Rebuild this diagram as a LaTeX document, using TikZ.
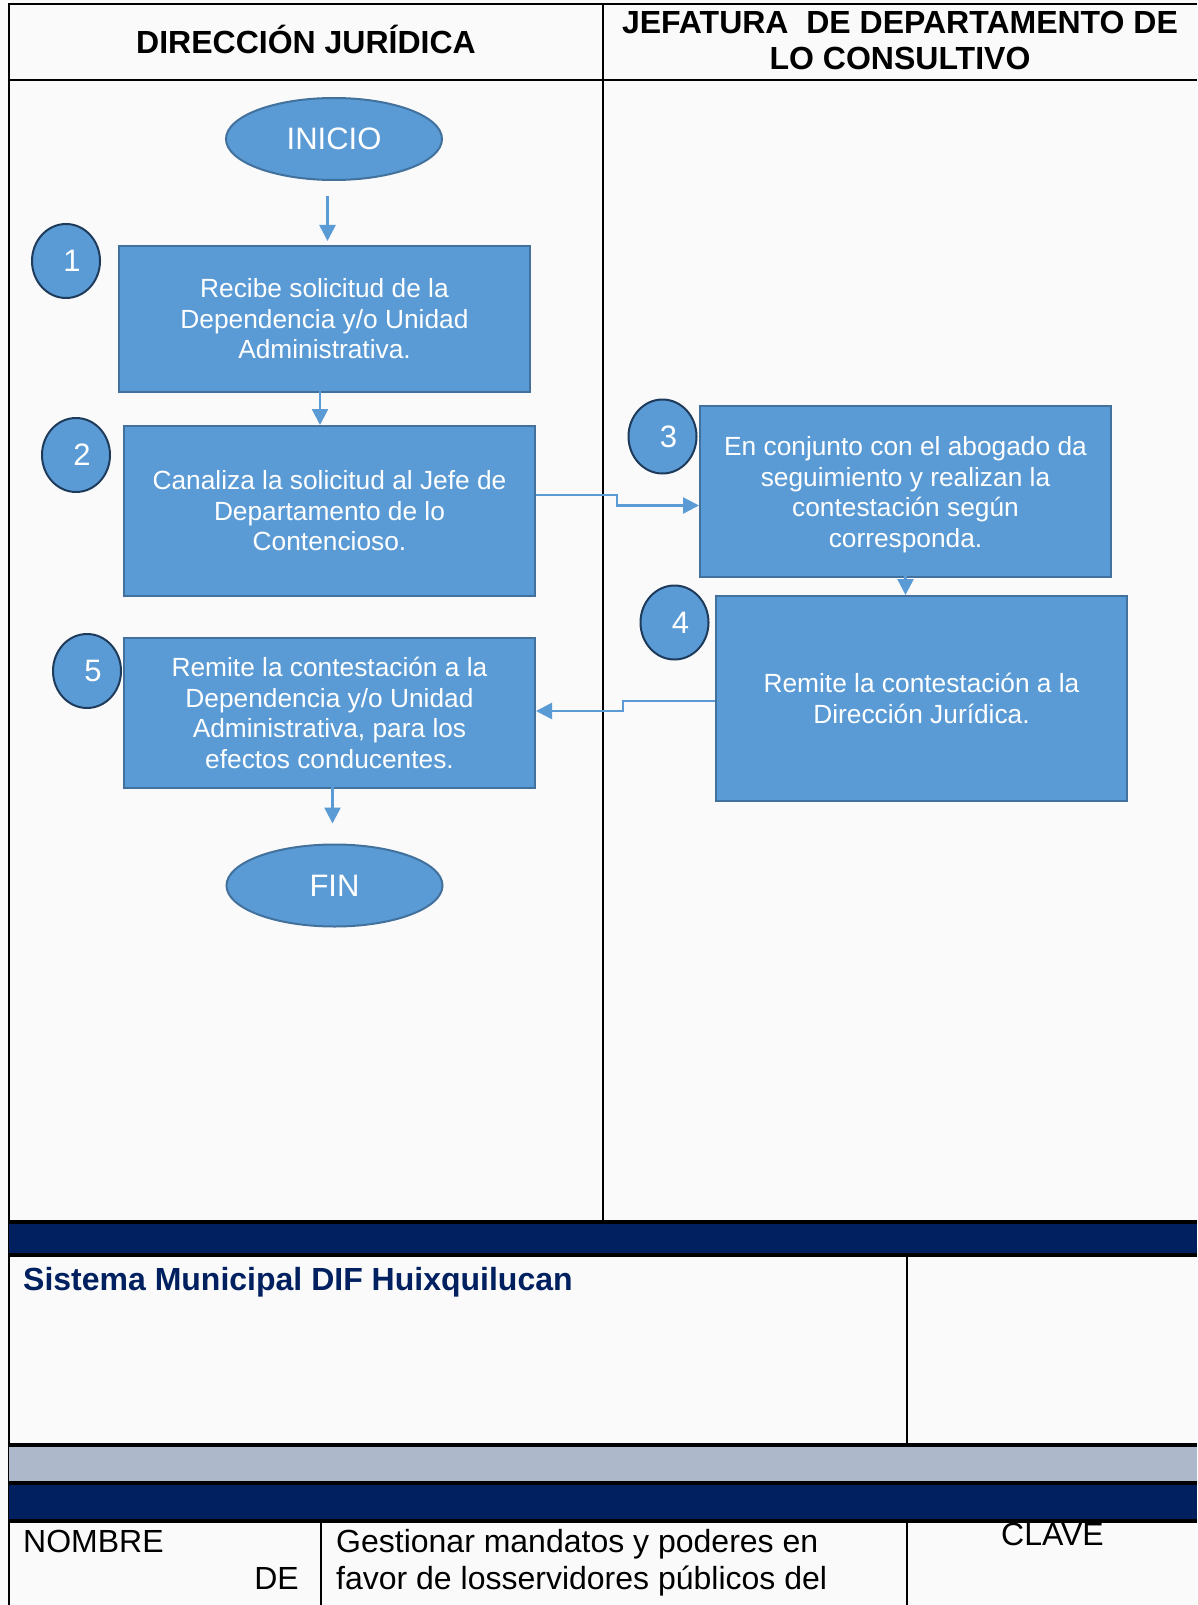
\documentclass[tikz,border=0pt]{standalone}
\usepackage{fontspec}
\setmainfont{Liberation Sans}
\usetikzlibrary{arrows.meta,shapes.geometric}
\definecolor{boxblue}{HTML}{5B9BD5}
\definecolor{boxedge}{HTML}{41719C}
\definecolor{ringedge}{HTML}{1F3B5C}
\definecolor{navyband}{HTML}{002060}
\definecolor{grayband}{HTML}{ADB9CA}
\definecolor{pagebg}{HTML}{FAFAFA}
\newcommand*\boxfont{\fontsize{26.3}{30.5}\selectfont}
\newcommand*\headfont{\fontsize{32}{36}\selectfont\bfseries}
\newcommand*\rowfont{\fontsize{32}{37}\selectfont}
\tikzset{
    stepbox/.style  = {draw=boxedge, line width=2pt, fill=boxblue,
                      text=white, align=center, font=\boxfont,
                      minimum width=411pt, inner sep=0pt},
    stepnum/.style  = {ellipse, draw=ringedge, line width=2pt, fill=boxblue,
                      text=white, font=\fontsize{31}{31}\selectfont,
                      minimum width=68pt, minimum height=74pt, inner sep=0pt,
                      execute at begin node={\hspace*{12pt}}},
    terminal/.style = {ellipse, draw=boxedge, line width=2pt, fill=boxblue,
                      text=white, font=\fontsize{31}{31}\selectfont,
                      minimum width=216pt, minimum height=82pt, inner sep=0pt},
    flow/.style     = {draw=boxblue, line width=2.5pt,
                      -{Triangle[length=16pt,width=16pt]}},
    rule/.style     = {draw=black, line width=2pt},
    thickrule/.style= {draw=black, line width=3.5pt},
    headtext/.style = {align=center, font=\headfont, inner sep=0pt},
    celltext/.style = {font=\rowfont, inner sep=0pt},
}

\begin{document}
\begin{tikzpicture}[x=1pt, y=-1pt]
  \useasboundingbox (0,0) rectangle (1197,1605);
  \fill[pagebg] (0,0) rectangle (1197,1605);

  % table frame and lanes
  \draw[rule] (9,1605) -- (9,4) -- (1197,4);
  \draw[rule] (9,80) -- (1197,80);
  \draw[rule] (603,4) -- (603,1222);
  \node[headtext] (lane1) at (306,39) {DIRECCIÓN JURÍDICA};
  \node[headtext] (lane2) at (900,40.5) {JEFATURA\ \ DE DEPARTAMENTO DE\\LO CONSULTIVO};

  % footer bands
  \fill[navyband] (9,1222) rectangle (1197,1255);
  \fill[grayband] (9,1445) rectangle (1197,1483);
  \fill[navyband] (9,1483) rectangle (1197,1521);
  \foreach \y in {1222,1255,1445,1483,1521}
    \draw[thickrule] (9,\y) -- (1197,\y);
  \draw[rule] (907,1255) -- (907,1445);
  \draw[rule] (321,1521) -- (321,1605);
  \draw[rule] (907,1521) -- (907,1605);

  % footer texts
  \node[celltext, font=\headfont, text=navyband, anchor=base west] (org) at (23,1290) {Sistema Municipal DIF Huixquilucan};
  \node[celltext, anchor=base west] (name) at (23,1552) {NOMBRE};
  \node[celltext, anchor=base east] (de) at (299,1589) {DE};
  \node[celltext, anchor=base west] (proc1) at (336,1552) {Gestionar mandatos y poderes en};
  \node[celltext, anchor=base west] (proc2) at (336,1589) {favor de losservidores públicos del};
  \node[celltext, anchor=base west] (clave) at (1001,1545) {CLAVE};

  % flow nodes
  \node[terminal] (ini) at (334,139) {INICIO};
  \node[stepbox, minimum height=146pt] (b1) at (324.5,319) {Recibe solicitud de la\\Dependencia y/o Unidad\\Administrativa.};
  \node[stepbox, minimum height=170pt] (b2) at (329.5,511) {Canaliza la solicitud al Jefe de\\Departamento de lo\\Contencioso.};
  \node[stepbox, minimum height=171pt] (b3) at (905.5,491.5) {\rule{0pt}{25pt}En conjunto con el abogado da\\seguimiento y realizan la\\contestación según\\corresponda.};
  \node[stepbox, minimum height=205pt] (b4) at (921.5,698.5) {Remite la contestación a la\\Dirección Jurídica.};
  \node[stepbox, minimum height=150pt] (b5) at (329.5,713) {Remite la contestación a la\\Dependencia y/o Unidad\\Administrativa, para los\\efectos conducentes.};
  \node[terminal] (fin) at (334.5,885.5) {FIN};

  % step numbers
  \node[stepnum] (n1) at (66,261) {1};
  \node[stepnum] (n2) at (76,455) {2};
  \node[stepnum] (n3) at (662.5,436.5) {3};
  \node[stepnum] (n4) at (674.5,622.5) {4};
  \node[stepnum] (n5) at (87,671) {5};

  % connectors
  \draw[flow] ([xshift=-6.5pt,yshift=-15pt]ini.south) -- ([xshift=-6.5pt,yshift=4pt]ini.south |- b1.north);
  \draw[flow] ([xshift=-4.5pt,yshift=11pt]b1.south) -- ([xshift=-4.5pt]b1.south |- b2.north);
  \draw[flow] ([yshift=16pt]b2.east) -- ++(81,0) |- ([yshift=-14pt]b3.west);
  \draw[flow] ([yshift=24pt]b3.south) -- (b3.south |- b4.north);
  \draw[flow] ([yshift=-2.5pt]b4.west) -- ++(-92,0) |- ([yshift=2pt]b5.east);
  \draw[flow] ([xshift=3pt,yshift=10pt]b5.south) -- ([xshift=3pt,yshift=20pt]b5.south |- fin.north);
\end{tikzpicture}
\end{document}
